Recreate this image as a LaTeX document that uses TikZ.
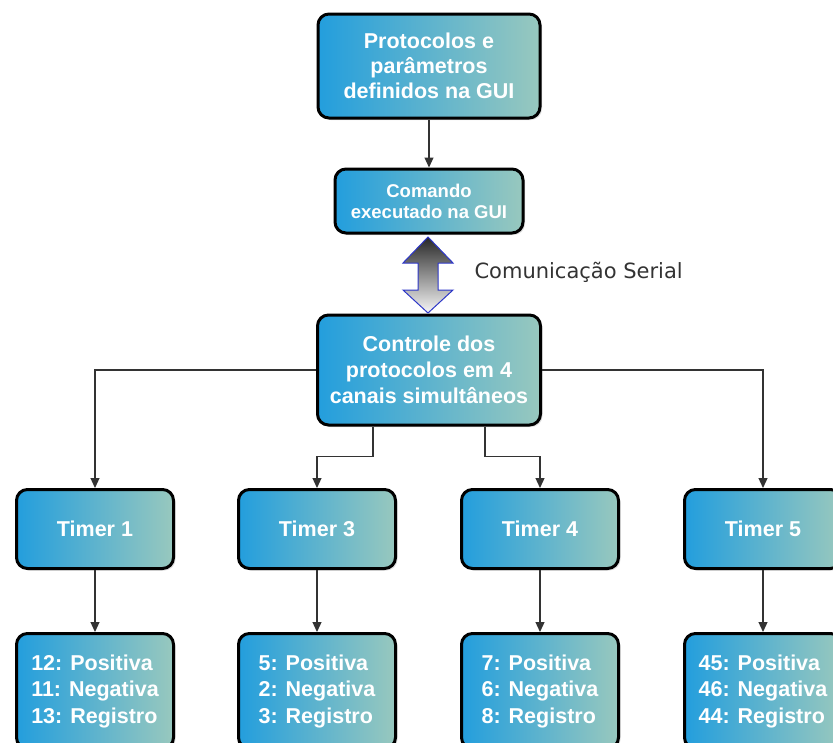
\documentclass[tikz,border=0pt]{standalone}
\usepackage{fontspec}
\setmainfont{Liberation Sans}
\newfontfamily\labelfont{DejaVu Sans}
\usetikzlibrary{arrows.meta,shadows}
\definecolor{boxleft}{RGB}{35,158,221}
\definecolor{boxright}{RGB}{152,200,190}
\definecolor{serialblue}{RGB}{45,55,200}

\begin{document}
\begin{tikzpicture}[x=1pt,y=-1pt,
        box/.style={rectangle,rounded corners=11pt,draw=black,line width=3pt,
            left color=boxleft,right color=boxright,text=white,align=center,
            font=\bfseries\fontsize{21.5}{25}\selectfont,
            drop shadow={shadow xshift=2pt,shadow yshift=-2pt,opacity=0.25}},
        conn/.style={draw=black!80,line width=1.2pt,-{Triangle[width=9pt,length=10pt]}}]
    \clip (0,0) rectangle (833,742);

    \begin{scope}[every node/.style={box}]
        \node (gui) at (429,66) [minimum width=222pt,minimum height=104pt]
            {Protocolos e\\parâmetros\\definidos na GUI};
        \node (cmd) at (429,201) [minimum width=188pt,minimum height=64pt,
            font=\bfseries\fontsize{18.5}{21}\selectfont]
            {Comando\\executado na GUI};
        \node (ctrl) at (429,370) [minimum width=223pt,minimum height=110pt,
            font=\bfseries\fontsize{21.5}{26}\selectfont]
            {Controle dos\\protocolos em 4\\canais simultâneos};

        \node (t1) at (95,529) [minimum width=157pt,minimum height=79pt] {Timer 1};
        \node (t3) at (317,529) [minimum width=157pt,minimum height=79pt] {Timer 3};
        \node (t4) at (540,529) [minimum width=157pt,minimum height=79pt] {Timer 4};
        \node (t5) at (763,529) [minimum width=157pt,minimum height=79pt] {Timer 5};

        \node (r1) at (95,691) [minimum width=157pt,minimum height=115pt,align=left,
            font=\bfseries\fontsize{21.5}{26.5}\selectfont]
            {12: Positiva\\11: Negativa\\13: Registro};
        \node (r3) at (317,691) [minimum width=157pt,minimum height=115pt,align=left,
            font=\bfseries\fontsize{21.5}{26.5}\selectfont]
            {5: Positiva\\2: Negativa\\3: Registro};
        \node (r4) at (540,691) [minimum width=157pt,minimum height=115pt,align=left,
            font=\bfseries\fontsize{21.5}{26.5}\selectfont]
            {7: Positiva\\6: Negativa\\8: Registro};
        \node (r5) at (763,691) [minimum width=157pt,minimum height=115pt,align=left,
            font=\bfseries\fontsize{21.5}{26.5}\selectfont]
            {45: Positiva\\46: Negativa\\44: Registro};
    \end{scope}

    % serial link
    \coordinate (serial) at (428,275);
    \draw[draw=serialblue,line width=1pt,top color=black!85,bottom color=black!3]
        (428,237) -- (453,263) -- (438,263) -- (438,290) -- (453,290) -- (428,313)
        -- (403,290) -- (418,290) -- (418,263) -- (403,263) -- cycle;
    \node (seriallbl) at (471,272) [anchor=west,text=black!80,
        font=\labelfont\fontsize{21}{24}\selectfont] {Comunicação Serial};

    \draw[conn] (gui.south) -- (cmd.north);
    \draw[conn] (ctrl.west) -| (t1.north);
    \draw[conn] ([xshift=-56pt]ctrl.south) -- ++(0,30) -| (t3.north);
    \draw[conn] ([xshift=56pt]ctrl.south) -- ++(0,30) -| (t4.north);
    \draw[conn] (ctrl.east) -| (t5.north);

    \draw[conn] (t1.south) -- (r1.north);
    \draw[conn] (t3.south) -- (r3.north);
    \draw[conn] (t4.south) -- (r4.north);
    \draw[conn] (t5.south) -- (r5.north);
\end{tikzpicture}
\end{document}
